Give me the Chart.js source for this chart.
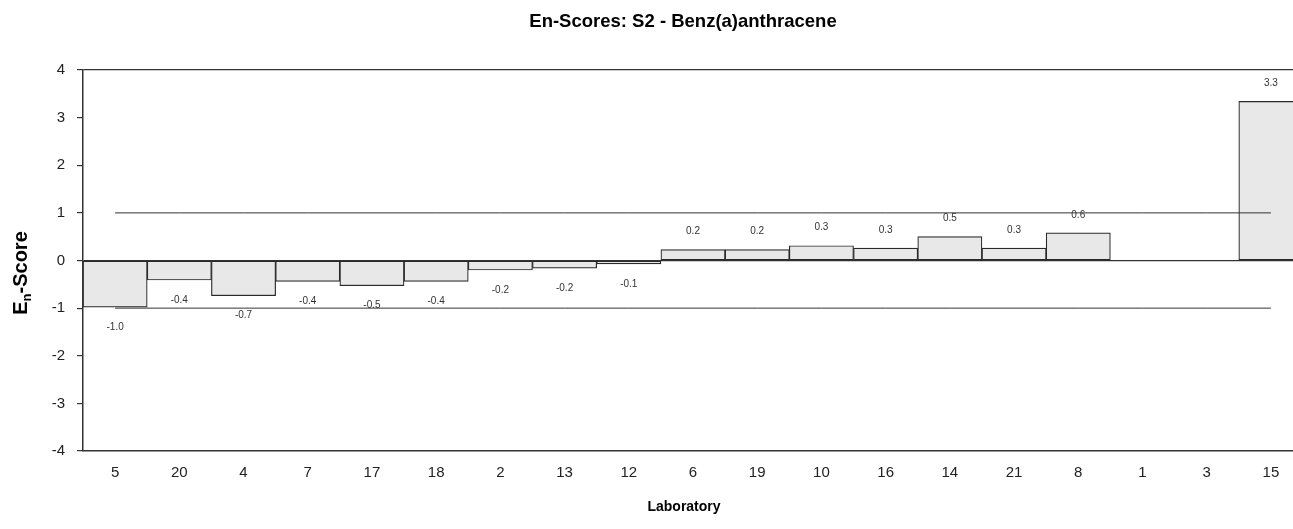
<!DOCTYPE html>
<html>
<head>
<meta charset="utf-8">
<script src="https://cdn.jsdelivr.net/npm/chart.js@4"></script>
<style>
  html, body { margin: 0; padding: 0; background: #fff; overflow: hidden; }
  #wrap { width: 1293px; height: 529px; overflow: hidden; position: relative; }
  #box { width: 1310px; height: 529px; position: absolute; left: 0; top: 0; }
</style>
</head>
<body>
<div id="wrap"><div id="box"><canvas id="c"></canvas></div></div>
<script>
const laboratories = ['5','20','4','7','17','18','2','13','12','6','19','10','16','14','21','8','1','3','15'];
const enScores = [-0.98,-0.41,-0.74,-0.44,-0.53,-0.44,-0.20,-0.16,-0.07,0.23,0.23,0.31,0.26,0.50,0.26,0.58,null,null,3.34];
const upperLimit = laboratories.map(() => 1);
const lowerLimit = laboratories.map(() => -1);
const yTicks = [-4,-3,-2,-1,0,1,2,3,4];
const chartTitle = 'En-Scores: S2 - Benz(a)anthracene';
const xTitle = 'Laboratory';

const FONT = '"Liberation Sans", Arial, sans-serif';

const labelsPlugin = {
  id: 'valueLabels',
  afterDatasetsDraw(chart) {
    const ctx = chart.ctx;
    const meta = chart.getDatasetMeta(0);
    ctx.save();
    ctx.font = '10px ' + FONT;
    ctx.fillStyle = '#333';
    ctx.textAlign = 'center';
    ctx.textBaseline = 'middle';
    meta.data.forEach((el, i) => {
      const v = enScores[i];
      if (v === null || v === undefined) return;
      const y = v >= 0 ? el.y - 18 : el.y + 20;
      ctx.fillText(v.toFixed(1), el.x, y);
    });
    ctx.restore();
  }
};

const titlesPlugin = {
  id: 'titles',
  afterDraw(chart) {
    const ctx = chart.ctx;
    ctx.save();
    ctx.fillStyle = '#000';
    ctx.textAlign = 'center';
    ctx.textBaseline = 'middle';
    ctx.font = 'bold 18.5px ' + FONT;
    ctx.fillText(chartTitle, 683, 22);
    ctx.font = 'bold 14px ' + FONT;
    ctx.fillText(xTitle, 684, 507);
    // y title with subscript
    ctx.translate(21, 273);
    ctx.rotate(-Math.PI / 2);
    ctx.textAlign = 'left';
    ctx.textBaseline = 'middle';
    const big = 'bold 20px ' + FONT, small = 'bold 13px ' + FONT;
    ctx.font = big; const wE = ctx.measureText('E').width;
    ctx.font = small; const wn = ctx.measureText('n').width;
    ctx.font = big; const wS = ctx.measureText('-Score').width;
    let x = -(wE + wn + wS) / 2;
    ctx.font = big; ctx.fillText('E', x, 0); x += wE;
    ctx.font = small; ctx.fillText('n', x, 6); x += wn;
    ctx.font = big; ctx.fillText('-Score', x, 0);
    ctx.restore();
  }
};

new Chart(document.getElementById('c'), {
  type: 'bar',
  data: {
    labels: laboratories,
    datasets: [
      {
        type: 'bar',
        data: enScores,
        backgroundColor: '#e8e8e8',
        borderColor: '#2a2a2a',
        borderWidth: 1.2,
        borderSkipped: false,
        barPercentage: 1,
        categoryPercentage: 1,
        order: 2
      },
      {
        type: 'line',
        data: upperLimit,
        borderColor: '#333',
        borderWidth: 1,
        pointRadius: 0,
        fill: false,
        order: 0
      },
      {
        type: 'line',
        data: lowerLimit,
        borderColor: '#333',
        borderWidth: 1,
        pointRadius: 0,
        fill: false,
        order: 0
      }
    ]
  },
  options: {
    responsive: true,
    maintainAspectRatio: false,
    animation: false,
    layout: { padding: { top: 70, right: 7, left: 0, bottom: 0 } },
    plugins: {
      legend: { display: false },
      tooltip: { enabled: false },
      title: { display: false }
    },
    scales: {
      x: {
        offset: true,
        grid: { display: false, drawTicks: false },
        border: { display: true, color: '#333', width: 1.5 },
        ticks: { color: '#222', font: { family: FONT, size: 15 }, padding: 13, maxRotation: 0, autoSkip: false },
        afterFit(scale) { scale.height = 78; }
      },
      y: {
        min: -4,
        max: 4,
        afterBuildTicks(scale) { scale.ticks = yTicks.map(v => ({ value: v })); },
        grid: {
          color: (c) => (c.tick && (c.tick.value === 0 || c.tick.value === 4)) ? '#333' : 'rgba(0,0,0,0)',
          tickColor: '#333',
          tickLength: 6,
          lineWidth: 1.2
        },
        border: { display: true, color: '#333', width: 1.5 },
        ticks: { color: '#222', font: { family: FONT, size: 15 }, padding: 12, stepSize: 1 },
        afterFit(scale) { scale.width = 83; }
      }
    }
  },
  plugins: [labelsPlugin, titlesPlugin]
});
</script>
</body>
</html>
